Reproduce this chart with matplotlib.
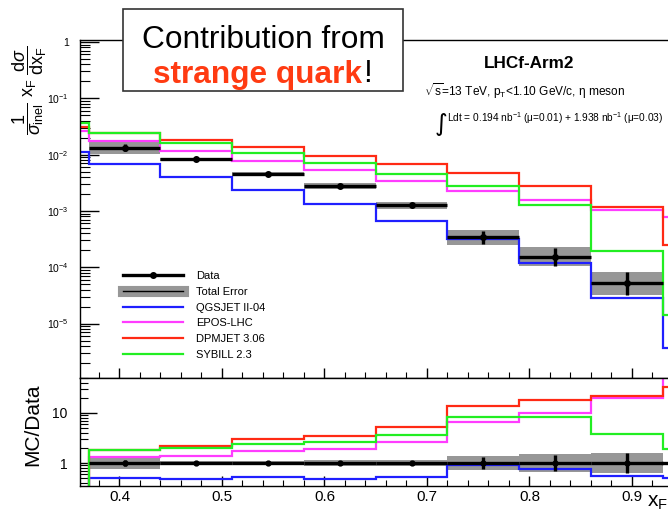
import numpy as np
import matplotlib
matplotlib.use("Agg")
import matplotlib.pyplot as plt
from matplotlib.lines import Line2D
from matplotlib.patches import Rectangle
from matplotlib.ticker import FixedLocator, MultipleLocator, NullFormatter

plt.rcParams["font.family"] = ["Liberation Sans", "DejaVu Sans"]
plt.rcParams["mathtext.fontset"] = "custom"
plt.rcParams["mathtext.rm"] = "Liberation Sans"
plt.rcParams["mathtext.it"] = "Liberation Sans:italic"
plt.rcParams["mathtext.bf"] = "Liberation Sans:bold"

# x_F bins (first and last bins only partly inside the frame)
edges = [0.30, 0.37, 0.44, 0.51, 0.58, 0.65, 0.72, 0.79, 0.86, 0.93, 1.00]

# measured eta spectrum, 0.37 - 0.93
data = [1.33e-2, 8.24e-3, 4.47e-3, 2.78e-3, 1.27e-3, 3.4e-4, 1.55e-4, 5.2e-5]
stat_lo = [1.158e-2, 7.87e-3, 4.27e-3, 2.59e-3, 1.18e-3, 2.58e-4, 1.07e-4, 3.28e-5]
stat_hi = [1.527e-2, 8.63e-3, 4.68e-3, 2.98e-3, 1.36e-3, 4.48e-4, 2.24e-4, 8.24e-5]
tot_lo = [1.03e-2, 7.69e-3, 4.12e-3, 2.45e-3, 1.09e-3, 2.52e-4, 1.04e-4, 3.25e-5]
tot_hi = [1.71e-2, 8.83e-3, 4.84e-3, 3.15e-3, 1.47e-3, 4.59e-4, 2.32e-4, 8.32e-5]
data_next = 7.5e-6  # bin 0.93 - 1.00 (only seen through the ratios)

# model predictions, one value per bin in edges
qgsjet = [1.11e-2, 6.74e-3, 4.0e-3, 2.32e-3, 1.31e-3, 6.7e-4, 3.15e-4, 1.17e-4, 2.87e-5, 3.7e-6]
epos = [2.63e-2, 1.77e-2, 1.16e-2, 7.7e-3, 5.35e-3, 3.4e-3, 2.29e-3, 1.56e-3, 1.04e-3, 7.8e-4]
dpmjet = [3.13e-2, 2.43e-2, 1.82e-2, 1.35e-2, 9.5e-3, 6.8e-3, 4.67e-3, 2.76e-3, 1.16e-3, 2.5e-4]
sibyll = [3.7e-2, 2.46e-2, 1.63e-2, 1.08e-2, 7.18e-3, 4.52e-3, 2.81e-3, 1.27e-3, 1.96e-4, 1.4e-5]

models = [("QGSJET II-04", qgsjet, "#1f1fff"),
          ("EPOS-LHC", epos, "#ff3cff"),
          ("DPMJET 3.06", dpmjet, "#ff2a14"),
          ("SYBILL 2.3", sibyll, "#22ee22")]

W, H = 668, 511


def fx(p):
    return p / W


def fy(p):
    return 1 - p / H


edges = np.array(edges)
data = np.array(data)
centers = (edges[1:9] + edges[2:10]) / 2
half = 0.035
band_col = "#979797"

fig = plt.figure(figsize=(6.68, 5.11), dpi=100)
ax1 = fig.add_axes([fx(80), fy(378), fx(670) - fx(80), fy(40) - fy(378)])
ax2 = fig.add_axes([fx(80), fy(486), fx(670) - fx(80), fy(378) - fy(486)])

# ---- spectrum
ax1.bar(centers, np.array(tot_hi) - np.array(tot_lo), bottom=tot_lo, width=2 * half,
        color=band_col, lw=0, zorder=1)
for name, vals, col in models:
    ax1.stairs(vals, edges, baseline=None, color=col, lw=1.6, zorder=2)
ax1.errorbar(centers, data, xerr=half,
             yerr=[data - np.array(stat_lo), np.array(stat_hi) - data],
             fmt="o", color="k", ms=4, elinewidth=2.4, capsize=0, zorder=3)

ax1.set_yscale("log")
ax1.set_ylim(1.08e-6, 1.085)
ax1.set_xlim(0.3615, 0.9371)
ax1.set_yticks([1e-5, 1e-4, 1e-3, 1e-2, 1e-1, 1])
ax1.set_yticklabels([r"$10^{-5}$", r"$10^{-4}$", r"$10^{-3}$", r"$10^{-2}$", r"$10^{-1}$", "1"])
ax1.yaxis.set_minor_locator(FixedLocator(
    [m * 10.0 ** e for e in range(-6, 0) for m in range(2, 10)]))
ax1.yaxis.set_minor_formatter(NullFormatter())
ax1.xaxis.set_major_locator(MultipleLocator(0.1))
ax1.xaxis.set_minor_locator(MultipleLocator(0.02))
ax1.tick_params(which="both", direction="in", top=False, right=False, labelbottom=False)
ax1.tick_params(axis="y", which="major", length=14, width=1, pad=8, labelsize=7.5)
ax1.tick_params(axis="y", which="minor", length=7, width=0.8)
ax1.tick_params(axis="x", which="major", length=7, width=1)
ax1.tick_params(axis="x", which="minor", length=4, width=0.8)

handles = [Line2D([], [], color="k", lw=2.4, marker="o", ms=4),
           (Line2D([], [], color=band_col, lw=8), Line2D([], [], color="k", lw=1))]
labels = ["Data", "Total Error"]
for name, vals, col in models:
    handles.append(Line2D([], [], color=col, lw=1.6))
    labels.append(name)
ax1.legend(handles, labels, loc="upper left", bbox_to_anchor=(fx(123), fy(271)),
           bbox_transform=fig.transFigure, frameon=False, fontsize=8,
           handlelength=5.4, handletextpad=1.2, labelspacing=0.52,
           borderpad=0, borderaxespad=0)

# ---- ratio
denom = np.concatenate([[np.nan], data, [data_next]])
ax2.bar(centers, (np.array(tot_hi) - np.array(tot_lo)) / data,
        bottom=np.array(tot_lo) / data, width=2 * half, color=band_col, lw=0, zorder=1)
for name, vals, col in models:
    ratio = np.array(vals) / denom
    ratio = np.where(np.isnan(ratio), 1e-3, ratio)
    ax2.stairs(ratio, edges, baseline=None, color=col, lw=1.6, zorder=2)
ones = np.ones(len(data))
ax2.errorbar(centers, ones, xerr=half,
             yerr=[1 - np.array(stat_lo) / data, np.array(stat_hi) / data - 1],
             fmt="o", color="k", ms=3.5, elinewidth=2.4, capsize=0, zorder=3)
ax2.plot([edges[9], edges[10]], [1, 1], color="k", lw=2.4, zorder=3)

ax2.set_yscale("log")
ax2.set_ylim(0.347, 50)
ax2.set_xlim(0.3615, 0.9371)
ax2.set_yticks([1, 10])
ax2.set_yticklabels(["1", "10"])
ax2.yaxis.set_minor_locator(FixedLocator(
    [0.4, 0.5, 0.6, 0.7, 0.8, 0.9, 2, 3, 4, 5, 6, 7, 8, 9, 20, 30, 40, 50]))
ax2.yaxis.set_minor_formatter(NullFormatter())
ax2.xaxis.set_major_locator(MultipleLocator(0.1))
ax2.xaxis.set_minor_locator(MultipleLocator(0.02))
ax2.tick_params(which="both", direction="in", top=False, right=False)
ax2.tick_params(axis="y", which="major", length=12, width=1, pad=9, labelsize=10)
ax2.tick_params(axis="y", which="minor", length=6, width=0.8)
ax2.tick_params(axis="x", which="major", length=7, width=1, pad=3, labelsize=11)
ax2.tick_params(axis="x", which="minor", length=4, width=0.8)

for ax in (ax1, ax2):
    for s in ax.spines.values():
        s.set_linewidth(1)

# ---- axis titles
fig.text(fx(30), fy(90),
         r"$\dfrac{1}{\sigma_{\mathrm{inel}}}\ \mathrm{x_F}\ \dfrac{\mathrm{d}\sigma}{\mathrm{dx_F}}$",
         rotation=90, ha="center", va="center", fontsize=13)
fig.text(fx(33), fy(425), "MC/Data", rotation=90, ha="center", va="center", fontsize=15)
fig.text(fx(647), fy(507), r"x$_{\mathrm{F}}$", ha="left", va="baseline", fontsize=15)

# ---- labels inside the plot
fig.text(fx(529), fy(68), "LHCf-Arm2", ha="center", va="baseline",
         fontsize=12.3, fontweight="bold")
fig.text(fx(525), fy(96), r"$\sqrt{\mathrm{s}}$=13 TeV, p$_{\mathrm{T}}$<1.10 GeV/c, η meson",
         ha="center", va="baseline", fontsize=8.6)
fig.text(fx(434), fy(124), r"$\int$", ha="left", va="center", fontsize=12.5,
         math_fontfamily="dejavusans")
fig.text(fx(447), fy(122),
         r"Ldt = 0.194 nb$^{-1}$ (μ=0.01) + 1.938 nb$^{-1}$ (μ=0.03)",
         ha="left", va="baseline", fontsize=7.3)

# ---- annotation box
fig.add_artist(Rectangle((fx(123), fy(91)), fx(403) - fx(123), fy(9) - fy(91),
                         transform=fig.transFigure, facecolor="white",
                         edgecolor="#333333", lw=1.2, zorder=5))
fig.text(fx(263), fy(48), "Contribution from", ha="center", va="baseline",
         fontsize=22.8, zorder=6)
fig.text(fx(153), fy(82.5), "strange quark", ha="left", va="baseline",
         fontsize=22.8, fontweight="bold", color="#ff3b12", zorder=6)
fig.text(fx(363.5), fy(82.5), "!", ha="left", va="baseline", fontsize=22.8, zorder=6)

fig.savefig("out.png", dpi=100)
